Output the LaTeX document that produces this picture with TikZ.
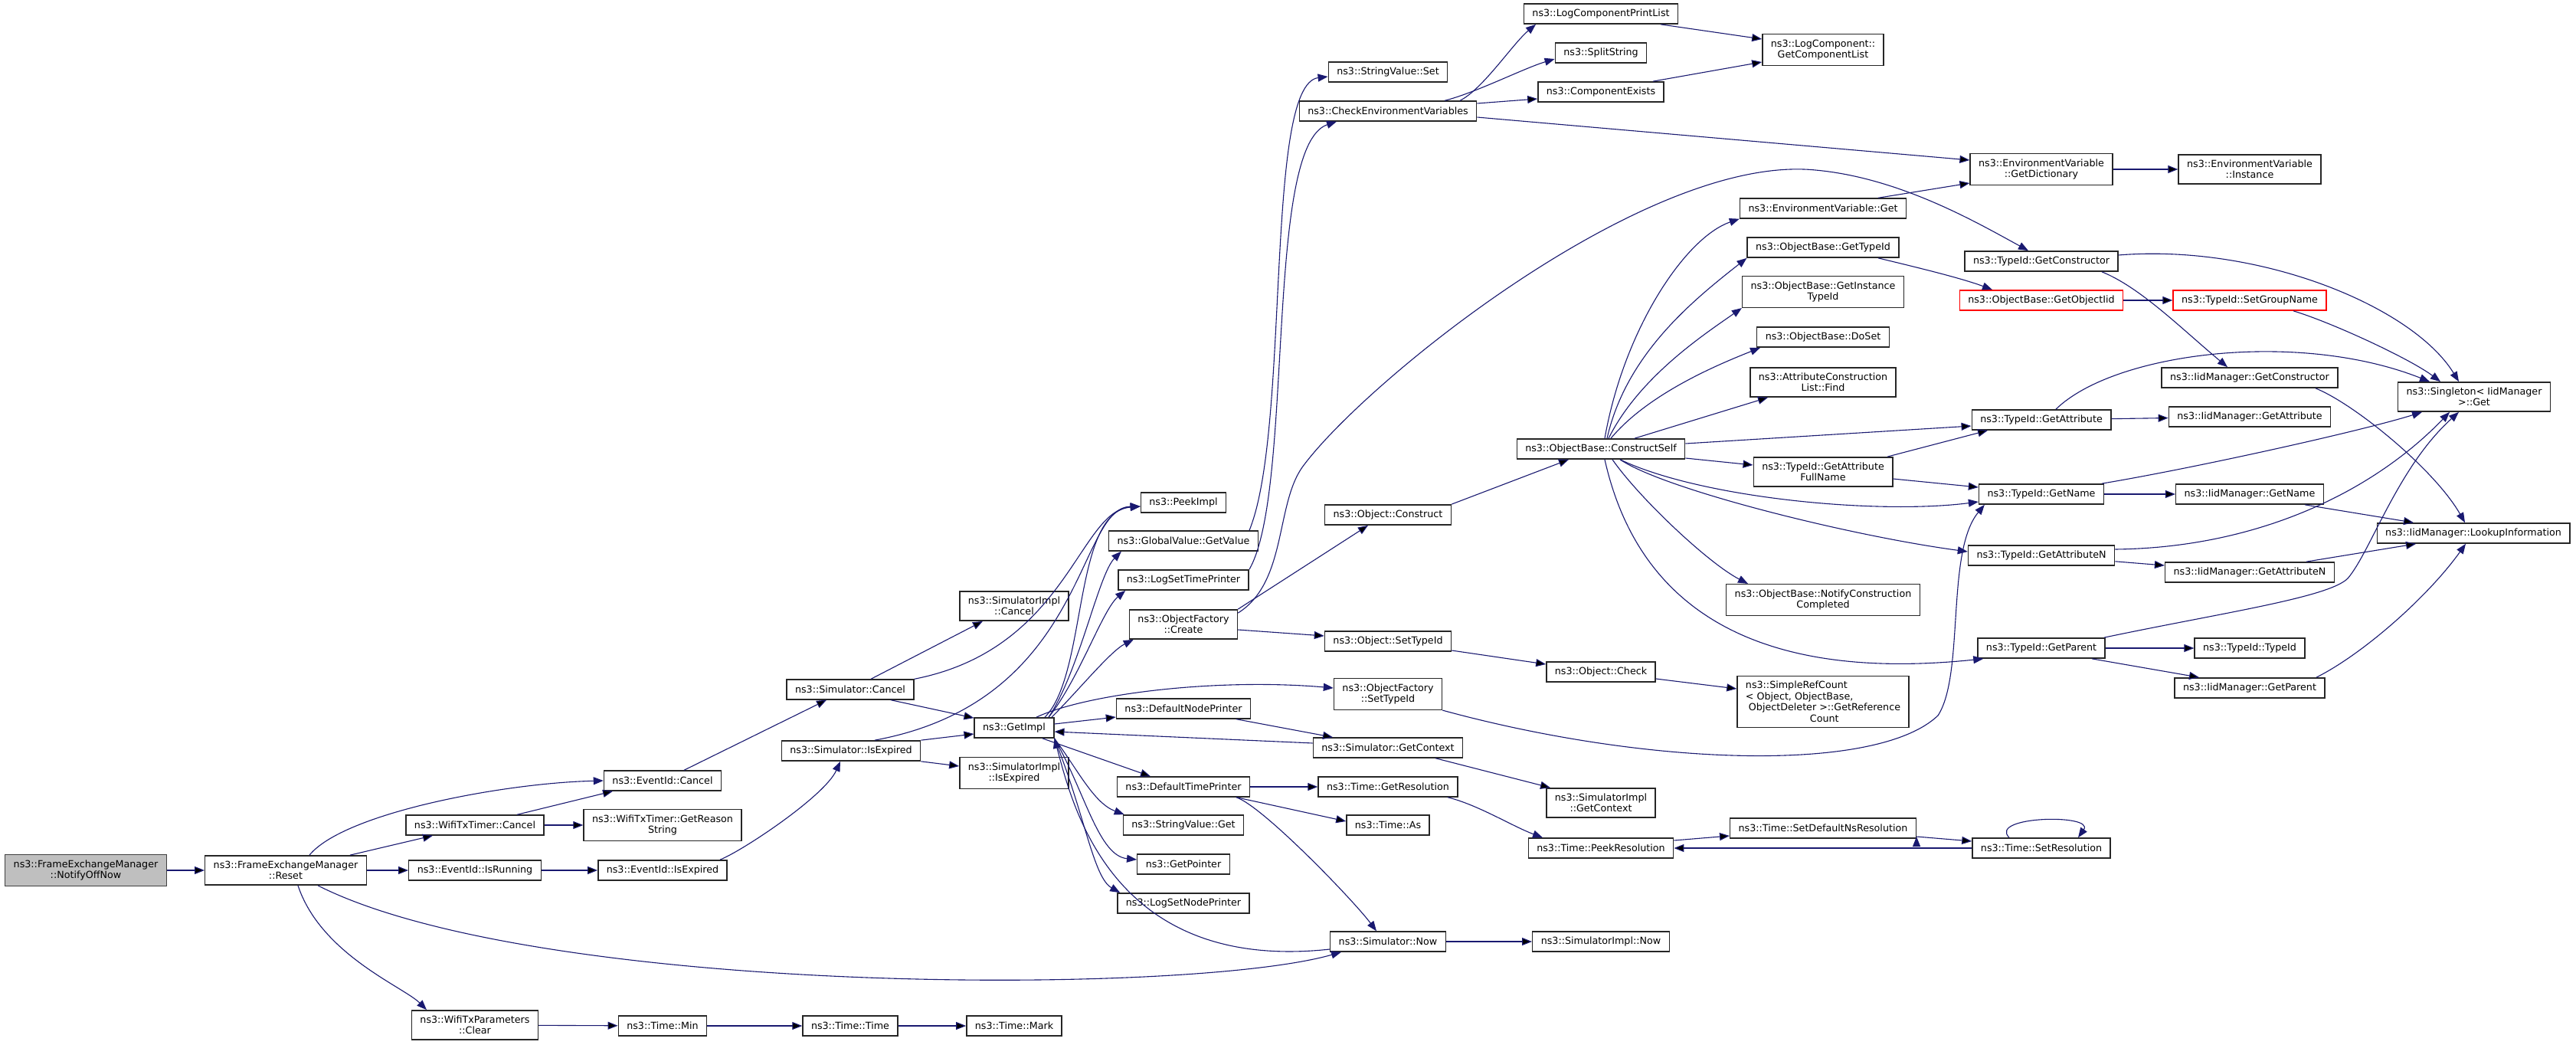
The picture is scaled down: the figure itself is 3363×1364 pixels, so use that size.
\documentclass[tikz,border=0pt]{standalone}
\usepackage{fontspec}
\setmainfont{DejaVu Sans}
\usepackage{tikz}
\usetikzlibrary{
	arrows.meta
}

\definecolor{callblue}{HTML}{191970}
\definecolor{rootgray}{HTML}{BFBFBF}

\tikzset{
	fn/.style={draw=black!85, line width=1.4pt, fill=white, align=center,
		inner xsep=11pt, inner ysep=7pt, minimum height=26pt,
		font=\fontsize{12.7}{14.5}\selectfont},
	fnroot/.style={fn, fill=rootgray, draw=black!75},
	fnmiss/.style={fn, draw=red},
	call/.style={draw=callblue, line width=1.1pt, -{Triangle[length=13pt,width=10pt]}},
}

\begin{document}
\begin{tikzpicture}[x=1pt,y=-1pt]
		\useasboundingbox (0,0) rectangle (3363,1364);

		\node[fnroot] (notify)      at (112,1136)  {ns3::FrameExchangeManager\\::NotifyOffNow};
		\node[fn]     (reset)       at (373,1136)  {ns3::FrameExchangeManager\\::Reset};
		\node[fn]     (txcancel)    at (620,1077)  {ns3::WifiTxTimer::Cancel};
		\node[fn]     (isrunning)   at (620,1136)  {ns3::EventId::IsRunning};
		\node[fn]     (txclear)     at (620,1338)  {ns3::WifiTxParameters\\::Clear};
		\node[fn]     (evcancel)    at (865,1019)  {ns3::EventId::Cancel};
		\node[fn]     (reason)      at (865,1077)  {ns3::WifiTxTimer::GetReason\\String};
		\node[fn]     (isexpired)   at (865,1136)  {ns3::EventId::IsExpired};
		\node[fn]     (tmin)        at (865,1339)  {ns3::Time::Min};
		\node[fn]     (simcancel)   at (1110,900)  {ns3::Simulator::Cancel};
		\node[fn]     (simexpired)  at (1111,980)  {ns3::Simulator::IsExpired};
		\node[fn]     (ttime)       at (1110,1339) {ns3::Time::Time};
		\node[fn]     (implcancel)  at (1324,791)  {ns3::SimulatorImpl\\::Cancel};
		\node[fn]     (getimpl)     at (1324,950)  {ns3::GetImpl};
		\node[fn]     (implexpired) at (1324,1009) {ns3::SimulatorImpl\\::IsExpired};
		\node[fn]     (tmark)       at (1324,1339) {ns3::Time::Mark};

		\node[fn] (peekimpl) at (1545,656)  {ns3::PeekImpl};
		\node[fn] (gvget)    at (1545,706)  {ns3::GlobalValue::GetValue};
		\node[fn] (logtime)  at (1545,757)  {ns3::LogSetTimePrinter};
		\node[fn] (ofcreate) at (1545,815)  {ns3::ObjectFactory\\::Create};
		\node[fn] (nodeprn)  at (1545,925)  {ns3::DefaultNodePrinter};
		\node[fn] (timeprn)  at (1545,1027) {ns3::DefaultTimePrinter};
		\node[fn] (svget)    at (1545,1077) {ns3::StringValue::Get};
		\node[fn] (getptr)   at (1545,1128) {ns3::GetPointer};
		\node[fn] (lognode)  at (1545,1179) {ns3::LogSetNodePrinter};

		\node[fn] (svset)      at (1812,94)   {ns3::StringValue::Set};
		\node[fn] (checkenv)   at (1812,145)  {ns3::CheckEnvironmentVariables};
		\node[fn] (oconstruct) at (1812,672)  {ns3::Object::Construct};
		\node[fn] (osettid)    at (1812,837)  {ns3::Object::SetTypeId};
		\node[fn] (ofsettid)   at (1812,906)  {ns3::ObjectFactory\\::SetTypeId};
		\node[fn] (simctx)     at (1812,976)  {ns3::Simulator::GetContext};
		\node[fn] (getres)     at (1812,1027) {ns3::Time::GetResolution};
		\node[fn] (tas)        at (1812,1077) {ns3::Time::As};
		\node[fn] (simnow)     at (1812,1229) {ns3::Simulator::Now};

		\node[fn] (lcprint)    at (2090,18)   {ns3::LogComponentPrintList};
		\node[fn] (split)      at (2090,69)   {ns3::SplitString};
		\node[fn] (compexists) at (2090,120)  {ns3::ComponentExists};
		\node[fn] (cself)      at (2090,586)  {ns3::ObjectBase::ConstructSelf};
		\node[fn] (ocheck)     at (2090,877)  {ns3::Object::Check};
		\node[fn] (implctx)    at (2090,1048) {ns3::SimulatorImpl\\::GetContext};
		\node[fn] (peekres)    at (2090,1107) {ns3::Time::PeekResolution};
		\node[fn] (implnow)    at (2090,1229) {ns3::SimulatorImpl::Now};

		\node[fn] (complist)  at (2380,65)   {ns3::LogComponent::\\GetComponentList};
		\node[fn] (envget)    at (2380,272)  {ns3::EnvironmentVariable::Get};
		\node[fn] (obgettid)  at (2380,323)  {ns3::ObjectBase::GetTypeId};
		\node[fn] (obinst)    at (2380,381)  {ns3::ObjectBase::GetInstance\\TypeId};
		\node[fn] (doset)     at (2380,440)  {ns3::ObjectBase::DoSet};
		\node[fn] (acfind)    at (2380,499)  {ns3::AttributeConstruction\\List::Find};
		\node[fn] (fullname)  at (2380,616)  {ns3::TypeId::GetAttribute\\FullName};
		\node[fn] (notify2)   at (2380,783)  {ns3::ObjectBase::NotifyConstruction\\Completed};
		\node[fn, align=left] (refcount) at (2380,916)
			{ns3::SimpleRefCount\\< Object, ObjectBase,\\\hspace*{4pt}ObjectDeleter >::GetReference\\\hspace*{84pt}Count};
		\node[fn] (setdefres) at (2380,1081) {ns3::Time::SetDefaultNsResolution};

		\node[fn]     (envdict)   at (2665,221)  {ns3::EnvironmentVariable\\::GetDictionary};
		\node[fn]     (getctor)   at (2665,341)  {ns3::TypeId::GetConstructor};
		\node[fnmiss] (getiid)    at (2665,392)  {ns3::ObjectBase::GetObjectIid};
		\node[fn]     (getattr)   at (2665,548)  {ns3::TypeId::GetAttribute};
		\node[fn]     (getname)   at (2665,645)  {ns3::TypeId::GetName};
		\node[fn]     (getattrn)  at (2665,725)  {ns3::TypeId::GetAttributeN};
		\node[fn]     (getparent) at (2665,846)  {ns3::TypeId::GetParent};
		\node[fn]     (setres)    at (2665,1107) {ns3::Time::SetResolution};

		\node[fn]     (envinst)   at (2937,221) {ns3::EnvironmentVariable\\::Instance};
		\node[fnmiss] (setgroup)  at (2937,392) {ns3::TypeId::SetGroupName};
		\node[fn]     (iidctor)   at (2937,493) {ns3::IidManager::GetConstructor};
		\node[fn]     (iidattr)   at (2937,544) {ns3::IidManager::GetAttribute};
		\node[fn]     (iidname)   at (2937,645) {ns3::IidManager::GetName};
		\node[fn]     (iidattrn)  at (2937,747) {ns3::IidManager::GetAttributeN};
		\node[fn]     (tidtid)    at (2937,846) {ns3::TypeId::TypeId};
		\node[fn]     (iidparent) at (2937,898) {ns3::IidManager::GetParent};

		\node[fn] (singleton) at (3230,518) {ns3::Singleton< IidManager\\>::Get};
		\node[fn] (lookup)    at (3229,696) {ns3::IidManager::LookupInformation};

		% straight calls
		\draw[call]
			(notify) edge (reset)
			([xshift=84pt]reset.north) edge ([xshift=-55pt]txcancel.south)
			(reset) edge (isrunning)
			([xshift=55pt]txcancel.north) edge ([xshift=-65pt]evcancel.south)
			(txcancel) edge (reason)
			(isrunning) edge (isexpired)
			([xshift=28pt]evcancel.north) edge ([xshift=-31pt]simcancel.south)
			([xshift=27pt]simcancel.north) edge ([xshift=-41pt]implcancel.south)
			([xshift=53pt]simcancel.south) edge ([yshift=-1pt]getimpl.north west)
			(simexpired.north east) edge ([yshift=-8pt]getimpl.west)
			(simexpired.south east) edge ([yshift=9pt]implexpired.west)
			([yshift=5pt]getimpl.east) edge ([yshift=-11pt]nodeprn.west)
			([xshift=37pt]getimpl.south) edge ([xshift=-43pt]timeprn.north)
			([yshift=6pt]simctx.west) edge ([yshift=-5pt]getimpl.east)
			([xshift=69pt]nodeprn.south) edge ([xshift=-72pt]simctx.north)
			(timeprn) edge (getres)
			([xshift=69pt]timeprn.south) edge ([yshift=5pt]tas.west)
			(ofcreate.north east) edge ([xshift=-26pt]oconstruct.south)
			([yshift=-7pt]ofcreate.east) edge ([yshift=7pt]osettid.west)
			([yshift=10pt]checkenv.east) edge ([yshift=-9pt]compexists.west)
			([yshift=-8pt]checkenv.east) edge ([yshift=12pt]envdict.west)
			([xshift=78pt]lcprint.south) edge ([yshift=14pt]complist.west)
			([xshift=68pt]compexists.north) edge ([yshift=-16pt]complist.west)
			([xshift=72pt]envget.north) edge ([yshift=-18pt]envdict.west)
			(envdict) edge (envinst)
			(oconstruct.north east) edge ([xshift=-42pt]cself.south)
			([xshift=44pt]cself.north) edge ([xshift=-72pt]acfind.south)
			([yshift=7pt]cself.east) edge ([yshift=-8pt]getattr.west)
			([yshift=-12pt]cself.east) edge ([yshift=9pt]fullname.west)
			([xshift=84pt]fullname.north) edge ([xshift=-70pt]getattr.south)
			([yshift=-9pt]fullname.east) edge ([yshift=9pt]getname.west)
			(getiid) edge (setgroup)
			(getattr) edge (iidattr)
			(getname) edge (iidname)
			([xshift=72pt]iidname.south) edge ([xshift=-78pt]lookup.north)
			(getattrn) edge (iidattrn)
			([xshift=74pt]iidattrn.north) edge ([xshift=-75pt]lookup.south)
			(getparent) edge (tidtid)
			([xshift=66pt]getparent.south) edge ([xshift=-66pt]iidparent.north)
			([yshift=-12pt]osettid.east) edge ([yshift=10pt]ocheck.west)
			([yshift=-9pt]ocheck.east) edge ([yshift=17pt]refcount.west)
			([xshift=62pt]simctx.south) edge ([xshift=-66pt]implctx.north)
			([yshift=10pt]peekres.east) edge ([yshift=-10pt]setdefres.west)
			([yshift=-11pt]setdefres.east) edge ([yshift=9pt]setres.west)
			(setres) edge (peekres)
			(simnow) edge (implnow)
			(txclear) edge (tmin)
			(tmin) edge (ttime)
			(ttime) edge (tmark)
		;

		% curved calls
		\draw[call] ([xshift=31pt]reset.north) .. controls +(45,-55) and +(-130,3) .. (evcancel.west);
		\draw[call] ([xshift=42pt]reset.south) .. controls (700,1300) and (1550,1300) .. ([xshift=15pt]simnow.south west);
		\draw[call] ([xshift=16pt]reset.south) .. controls +(30,90) and +(-30,-30) .. ([xshift=-63pt]txclear.north);
		\draw[call] ([xshift=75pt]isexpired.north) .. controls +(30,-12) and +(-20,45) .. ([xshift=-14pt]simexpired.south);
		\draw[call] (simcancel.north east) .. controls (1394,847) and (1408,666) .. ([yshift=-5pt]peekimpl.west);
		\draw[call] ([xshift=31pt]simexpired.north) .. controls (1420,915) and (1405,662) .. ([yshift=-5pt]peekimpl.west);
		\draw[call] ([xshift=40pt]getimpl.north) .. controls (1420,880) and (1400,668) .. ([yshift=-5pt]peekimpl.west);
		\draw[call] ([xshift=45pt]getimpl.north) .. controls +(40,-60) and +(-30,30) .. ([xshift=17pt]gvget.south west);
		\draw[call] ([xshift=45pt]getimpl.north) .. controls +(40,-50) and +(-30,25) .. ([xshift=10pt]logtime.south west);
		\draw[call] ([xshift=49pt]getimpl.north) .. controls +(35,-35) and +(-30,15) .. ([xshift=6pt]ofcreate.south west);
		\draw[call] ([xshift=29pt]getimpl.north) .. controls (1420,905) and (1590,885) .. ([yshift=8pt]ofsettid.west);
		\draw[call] (getimpl.south east) .. controls +(30,40) and +(-40,-15) .. ([xshift=2pt]svget.north west);
		\draw[call] (getimpl.south east) .. controls +(40,70) and +(-50,-5) .. ([yshift=6pt]getptr.west);
		\draw[call] (getimpl.south east) .. controls +(40,100) and +(-35,-20) .. ([xshift=4pt]lognode.north west);
		\draw[call] ([yshift=-10pt]simnow.west) .. controls (1450,1270) and (1400,1050) .. (getimpl.south east);
		\draw[call] ([xshift=69pt]timeprn.south) .. controls +(35,12) and +(-30,-40) .. ([xshift=-15pt]simnow.north);
		\draw[call] ([xshift=86pt]gvget.north) .. controls (1685,560) and (1650,110) .. ([yshift=-6pt]svset.west);
		\draw[call] ([xshift=86pt]logtime.north) .. controls (1690,640) and (1650,190) .. ([xshift=-67pt]checkenv.south);
		\draw[call] ([yshift=-5pt]ofcreate.north east) .. controls (1680,760) and (1665,660) .. (1700,610)
			.. controls (1780,500) and (2150,200) .. (2370,222)
			.. controls (2480,232) and (2580,290) .. ([xshift=-17pt]getctor.north);
		\draw[call] ([xshift=94pt]checkenv.north) .. controls +(30,-15) and +(-30,25) .. ([xshift=-85pt]lcprint.south);
		\draw[call] ([xshift=74pt]checkenv.north) .. controls +(40,-10) and +(-40,12) .. ([yshift=-8pt]split.west);
		\draw[call] ([xshift=5pt]cself.north) .. controls (2120,430) and (2200,310) .. (envget.south west);
		\draw[call] ([xshift=8pt]cself.north) .. controls +(25,-110) and +(-70,55) .. (obgettid.south west);
		\draw[call] ([xshift=10pt]cself.north) .. controls +(40,-80) and +(-50,35) .. (obinst.south west);
		\draw[call] ([xshift=13pt]cself.north) .. controls +(50,-60) and +(-50,20) .. ([xshift=5pt]doset.south west);
		\draw[call] ([xshift=25pt]cself.south) .. controls (2220,650) and (2450,672) .. ([yshift=-10pt]getname.west);
		\draw[call] ([xshift=25pt]cself.south) .. controls +(60,40) and +(-150,-20) .. ([yshift=5pt]getattrn.west);
		\draw[call] ([xshift=15pt]cself.south) .. controls (2140,650) and (2230,735) .. ([xshift=-98pt]notify2.north);
		\draw[call] ([xshift=5pt]cself.south) .. controls (2140,800) and (2300,890) .. ([xshift=8pt]getparent.south west);
		\draw[call] ([xshift=72pt]obgettid.south) .. controls +(50,12) and +(-40,-15) .. ([xshift=-64pt]getiid.north);
		\draw[call] ([xshift=57pt]setgroup.south) .. controls +(50,15) and +(-40,-30) .. ([xshift=-44pt]singleton.north);
		\draw[call] ([yshift=8pt]getctor.east) .. controls (2950,318) and (3150,400) .. ([xshift=-20pt]singleton.north);
		\draw[call] ([xshift=79pt]getctor.south) .. controls +(50,20) and +(-60,-50) .. ([xshift=-29pt]iidctor.north);
		\draw[call] ([xshift=86pt]iidctor.south) .. controls +(50,20) and +(-40,-70) .. ([xshift=-11pt]lookup.north);
		\draw[call] ([xshift=19pt]getattr.north) .. controls (2760,460) and (3000,430) .. ([xshift=-58pt]singleton.north);
		\draw[call] ([xshift=79pt]getname.north) .. controls +(120,-20) and +(-80,25) .. ([xshift=-68pt]singleton.south);
		\draw[call] ([yshift=8pt]getattrn.east) .. controls (2950,715) and (3100,640) .. ([xshift=-32pt]singleton.south);
		\draw[call] ([xshift=82pt]getparent.north) .. controls (2900,800) and (3040,780) .. (3065,755)
			.. controls (3095,720) and (3130,610) .. ([xshift=-20pt]singleton.south);
		\draw[call] ([xshift=87pt]iidparent.north) .. controls +(60,-30) and +(-50,70) .. ([xshift=-10pt]lookup.south);
		\draw[call] (ofsettid.south east) .. controls (2150,1000) and (2450,1010) .. (2530,934)
			.. controls (2565,880) and (2540,720) .. ([xshift=8pt]getname.south west);
		\draw[call] ([xshift=78pt]getres.south) .. controls +(40,10) and +(-40,-15) .. ([xshift=-76pt]peekres.north);
		\draw[call] ([xshift=-42pt]setres.north) .. controls (2595,1065) and (2735,1062) .. ([xshift=48pt]setres.north);
	\end{tikzpicture}
\end{document}
